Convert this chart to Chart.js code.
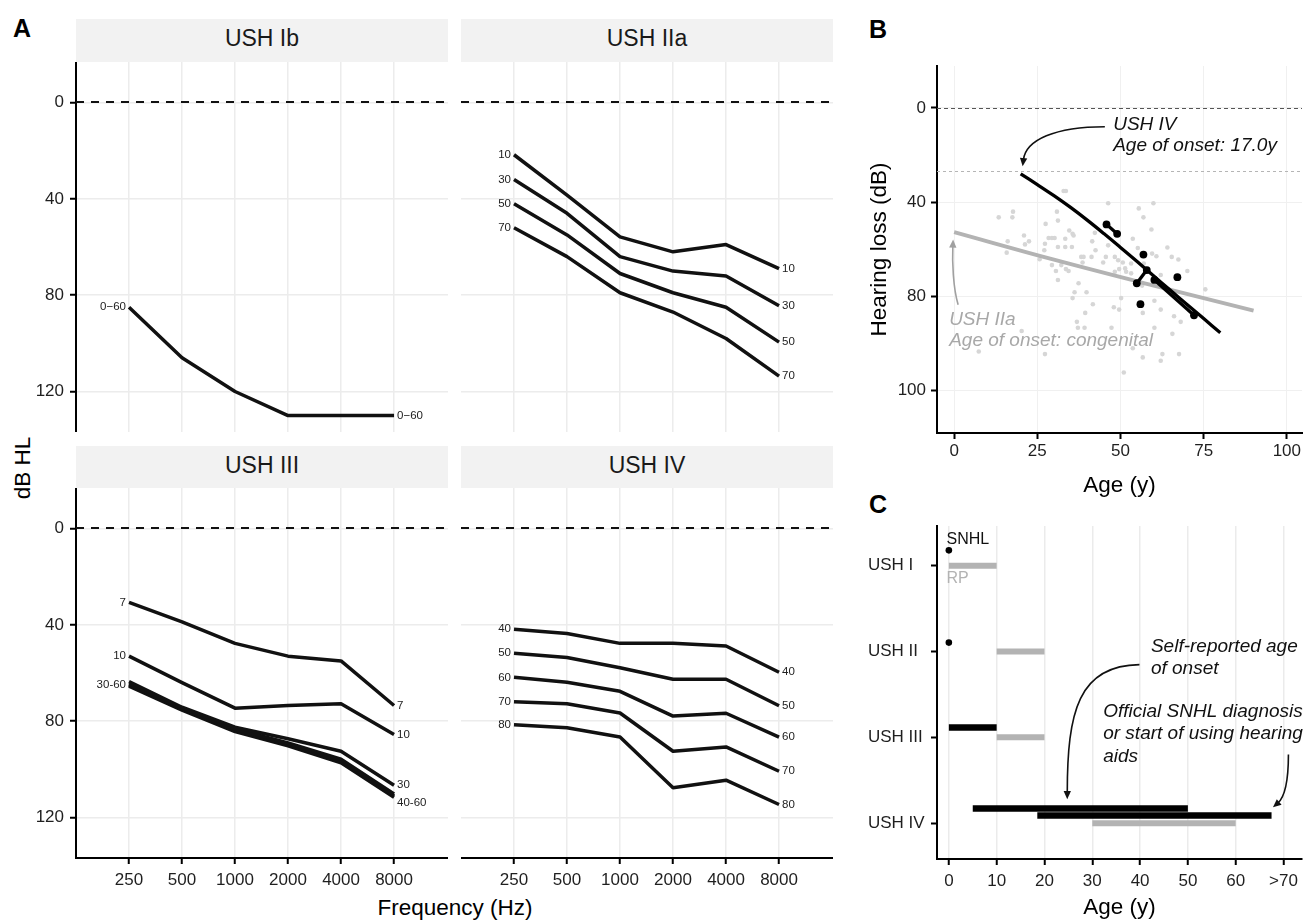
<!DOCTYPE html>
<html>
<head>
<meta charset="utf-8">
<title>Usher syndrome hearing</title>
<script src="https://cdn.jsdelivr.net/npm/chart.js@4.4.1/dist/chart.umd.min.js"></script>
<style>
  html, body { margin:0; padding:0; background:#fff; width:1309px; height:921px; overflow:hidden; }
  body { position:relative; font-family:'Liberation Sans', Arial, Helvetica, sans-serif; }
  canvas { position:absolute; }
  .strip { position:absolute; background:#f2f2f2; box-sizing:border-box; text-align:center; font-size:23px; line-height:23px; color:#1a1a1a; }
  .txt { position:absolute; white-space:nowrap; line-height:1; color:#000; }
  .letter { font-weight:bold; font-size:25px; }
</style>
</head>
<body>
<div class="txt letter" style="left:22px;top:28px;transform:translate(-50%,-50%)">A</div>
<div class="txt letter" style="left:878px;top:29px;transform:translate(-50%,-50%)">B</div>
<div class="txt letter" style="left:878px;top:504px;transform:translate(-50%,-50%)">C</div>

<div class="strip" style="left:76px;top:19px;width:372px;height:43px;padding-top:7.5px">USH Ib</div>
<div class="strip" style="left:461px;top:19px;width:372px;height:43px;padding-top:7.5px">USH IIa</div>
<div class="strip" style="left:76px;top:446px;width:372px;height:42px;padding-top:7.5px">USH III</div>
<div class="strip" style="left:461px;top:446px;width:372px;height:42px;padding-top:7.5px">USH IV</div>

<div class="txt" style="left:455px;top:908px;font-size:22.5px;transform:translate(-50%,-50%)">Frequency (Hz)</div>
<div class="txt" style="left:23px;top:468px;font-size:22.5px;transform:translate(-50%,-50%) rotate(-90deg)">dB HL</div>

<script>
// ======================= DATA =======================
// Panel A: audiograms per age (dB HL at each frequency)
const freqs = [250, 500, 1000, 2000, 4000, 8000];
const freqLabels = ['250', '500', '1000', '2000', '4000', '8000'];
const dbTicks = [0, 40, 80, 120];

const ush1b_age0_60 = [85, 106, 120, 130, 130, 130];
const ush1bLeftLabels  = ['0\u221260'];
const ush1bRightLabels = ['0\u221260'];

const ush2a_age10 = [21.7, 38.5, 55.8, 62, 59, 69];
const ush2a_age30 = [32, 46, 64, 70, 72, 84.4];
const ush2a_age50 = [42, 55, 71, 79, 85, 99.5];
const ush2a_age70 = [52, 64, 79, 87, 98, 113.6];
const ush2aLeftLabels  = ['10', '30', '50', '70'];
const ush2aRightLabels = ['10', '30', '50', '70'];

const ush3_age7  = [30.7, 38.8, 47.7, 53, 55, 73.5];
const ush3_age10 = [53, 64, 74.6, 73.5, 72.8, 85.5];
const ush3_age30 = [63.6, 74.2, 82.5, 87.3, 92.5, 106.6];
const ush3_age40 = [64.5, 74.6, 83.2, 89, 95.8, 110.2];
const ush3_age50 = [65, 75, 83.8, 89.6, 96.6, 111];
const ush3_age60 = [65.5, 75.4, 84.3, 90.2, 97.3, 111.6];
const ush3LeftLabels  = ['7', '10', '', '', '30-60', ''];
const ush3RightLabels = ['7', '10', '30', '', '', '40-60'];

const ush4_age40 = [41.8, 43.6, 47.7, 47.7, 48.8, 59.7];
const ush4_age50 = [51.8, 53.6, 57.8, 62.6, 62.6, 73.6];
const ush4_age60 = [61.8, 63.8, 67.6, 77.9, 76.7, 86.6];
const ush4_age70 = [71.9, 72.8, 76.6, 92.5, 90.7, 100.8];
const ush4_age80 = [81.5, 82.7, 86.6, 107.6, 104.5, 114.6];
const ush4LeftLabels  = ['40', '50', '60', '70', '80'];
const ush4RightLabels = ['40', '50', '60', '70', '80'];

// Panel B: hearing loss vs age
const ush2aAge = [32.9,33.6,13.4,17.7,17.5,30.9,31.2,27.5,21.0,22.5,21.3,16.1,15.8,28.4,29.4,30.2,27.3,27.1,25.7,31.2,
  33.4,35.4,33.4,34.6,35.6,35.9,42.3,41.5,42.5,41.3,38.2,38.9,38.6,29.4,32.2,30.6,33.6,34.4,31.2,37.4,
  36.2,39.8,35.6,41.7,39.4,36.9,37.2,39.2,20.3,7.4,27.3,46.3,59.9,55.5,56.9,59.3,53.7,64.1,55.2,46.3,
  65.4,67.4,59.5,60.8,45.6,48.3,49.3,44.8,50.7,51.7,49.6,48.3,53.2,62.1,70.1,75.5,56.5,56.7,50.2,49.6,
  48.0,60.2,62.1,66.1,68.1,60.2,65.6,47.3,53.7,56.7,62.6,62.1,67.6,51.0,53.2,51.4,57.0];
const ush2aHL = [35.3,35.3,46.5,44.1,46.5,44.1,47.9,49.3,54.2,56.7,58.0,56.7,61.5,55.3,55.3,55.3,57.7,60.5,64.3,59.1,
  59.1,59.1,55.6,52.1,53.5,54.2,53.1,56.7,60.5,63.3,63.3,63.3,65.7,66.8,66.8,69.3,68.5,69.3,73.1,74.5,
  78.3,78.3,80.8,83.4,87.1,90.9,93.4,93.4,94.8,103.5,104.6,40.5,40.5,42.7,46.5,51.7,55.6,59.3,59.5,58.4,
  63.3,64.4,61.9,63.0,63.3,63.3,64.7,65.7,65.7,69.6,68.5,69.6,70.3,71.0,69.3,77.1,75.5,87.1,80.8,85.7,
  84.7,81.9,85.7,88.5,90.9,93.4,96.0,93.4,102.1,106.0,104.6,107.4,104.6,112.4,66.1,68.2,66.1];

const ush4PatientId = [1, 1, 2, 3, 3, 4, 4, 5, 6];
const ush4Age = [45.8, 49.0, 56.9, 57.9, 54.9, 60.2, 72.1, 67.1, 56.0];
const ush4HL  = [49.5, 53.5, 62.3, 68.9, 74.5, 73.1, 88.1, 71.9, 83.4];

const fitUsh4Age = [20, 25, 30, 35, 40, 45, 50, 55, 60, 65, 70, 75, 80];
const fitUsh4HL  = [28, 32.6, 37.3, 42.3, 47.7, 53.4, 59.3, 65.3, 71.4, 77.5, 83.5, 89.5, 95.5];
const fitUsh2aAge = [0, 30, 60, 90];
const fitUsh2aHL  = [52.8, 64.5, 75.5, 86.1];
const onsetThresholdDB = 27;

const bXTicks = [0, 25, 50, 75, 100];
const bYTicks = [0, 40, 80, 120];
const bYTickLabels = ['0', '40', '80', '100'];

// Panel C: onset of SNHL and RP by Usher type
const cGroups = ['USH I', 'USH II', 'USH III', 'USH IV'];
const snhlPointGroup = ['USH I', 'USH II'];
const snhlPointAge   = [0, 0];
const snhlBarGroup = ['USH III', 'USH IV', 'USH IV'];
const snhlBarStart = [0, 5, 18.5];
const snhlBarEnd   = [10, 50, 67.5];
const rpGroup = ['USH I', 'USH II', 'USH III', 'USH IV'];
const rpStart = [0, 10, 10, 30];
const rpEnd   = [10, 20, 20, 60];
const cXTicks = [0, 10, 20, 30, 40, 50, 60, 70];
const cXTickLabels = ['0', '10', '20', '30', '40', '50', '60', '>70'];

// ======================= STYLE / LAYOUT =======================
const FONT = "'Liberation Sans', Arial, Helvetica, sans-serif";
Chart.defaults.font.family = FONT;
Chart.defaults.color = '#222';
const GRID = '#ececec';
const TICKFONT = {size: 17};
const TICKCOL = '#1f1f1f';
const snhlPointNudge = [-0.18, -0.105];
const snhlBarNudge = [-0.115, -0.17, -0.088];
const ush3RightDy = [0, 0, 0, 0, 0, 6];

function makeCanvas(left, top, w, h) {
  const c = document.createElement('canvas');
  c.width = w; c.height = h;
  c.style.left = left + 'px'; c.style.top = top + 'px';
  c.style.width = w + 'px'; c.style.height = h + 'px';
  document.body.appendChild(c);
  return c.getContext('2d');
}
function baseOptions() {
  return { responsive:false, animation:false, devicePixelRatio:1, events:[],
    layout:{padding:0},
    plugins:{legend:{display:false}, tooltip:{enabled:false}, title:{display:false}} };
}
function refLines(lines) {
  return { id:'refLines', beforeDatasetsDraw(chart) {
    const {ctx, chartArea:a, scales:{y}} = chart;
    ctx.save();
    lines.forEach(l => {
      const py = Math.round(y.getPixelForValue(l.value)) + (l.width % 2 ? 0.5 : 0);
      ctx.beginPath(); ctx.setLineDash(l.dash); ctx.lineWidth = l.width; ctx.strokeStyle = l.color;
      ctx.moveTo(a.left, py); ctx.lineTo(a.right, py); ctx.stroke();
    });
    ctx.restore();
  }};
}
const endLabels = { id:'endLabels', afterDatasetsDraw(chart) {
  const ctx = chart.ctx; ctx.save();
  ctx.font = '11.5px ' + FONT; ctx.fillStyle = '#222'; ctx.textBaseline = 'middle';
  chart.data.datasets.forEach((ds, i) => {
    const pts = chart.getDatasetMeta(i).data; if (!pts.length) return;
    if (ds.leftLabel) { ctx.textAlign = 'right'; ctx.fillText(ds.leftLabel, pts[0].x - 3, pts[0].y); }
    if (ds.rightLabel) { const p = pts[pts.length - 1]; ctx.textAlign = 'left'; ctx.fillText(ds.rightLabel, p.x + 3, p.y + (ds.rightDy || 0)); }
  });
  ctx.restore();
}};
function drawArrow(ctx, P, color, width, head) {
  const [p0, p1, p2, p3] = P;
  const ang = Math.atan2(p3[1] - p2[1], p3[0] - p2[0]);
  ctx.strokeStyle = color; ctx.fillStyle = color; ctx.lineWidth = width; ctx.setLineDash([]);
  ctx.beginPath(); ctx.moveTo(p0[0], p0[1]);
  ctx.bezierCurveTo(p1[0], p1[1], p2[0], p2[1], p3[0] - Math.cos(ang) * head * 0.7, p3[1] - Math.sin(ang) * head * 0.7);
  ctx.stroke();
  ctx.beginPath(); ctx.moveTo(p3[0], p3[1]);
  ctx.lineTo(p3[0] - head * Math.cos(ang - 0.42), p3[1] - head * Math.sin(ang - 0.42));
  ctx.lineTo(p3[0] - head * Math.cos(ang + 0.42), p3[1] - head * Math.sin(ang + 0.42));
  ctx.closePath(); ctx.fill();
}
function notesPlugin(notes, arrows) {
  return { id:'notes', afterDatasetsDraw(chart) {
    const {ctx, scales:{x, y}} = chart;
    ctx.save();
    notes.forEach(n => {
      ctx.font = (n.style || '') + ' ' + n.size + 'px ' + FONT;
      ctx.fillStyle = n.color; ctx.textAlign = 'left'; ctx.textBaseline = 'middle';
      const px = x.getPixelForValue(n.x), py = y.getPixelForValue(n.y);
      n.lines.forEach((t, k) => ctx.fillText(t, px, py + k * n.lh));
    });
    arrows.forEach(a => drawArrow(ctx, a.pts.map(p => [x.getPixelForValue(p[0]), y.getPixelForValue(p[1])]), a.color, a.width, a.head));
    ctx.restore();
  }};
}

// ======================= PANEL A =======================
function audiogram(chartLeft, chartTop, seriesList, leftLabels, rightLabels, rightDy, showY, showX) {
  const W = showY ? 56 : 0, H = showX ? 40 : 0, PW = 372, PH = 370;
  const ctx = makeCanvas(chartLeft - W, chartTop, PW + W, PH + H);
  const datasets = seriesList.map((vals, i) => ({
    type:'line', data: vals.map((v, j) => ({x: freqs[j], y: v})),
    borderColor:'#111', borderWidth:3.5, pointRadius:0, tension:0,
    borderCapStyle:'butt', borderJoinStyle:'round',
    leftLabel: leftLabels[i], rightLabel: rightLabels[i], rightDy: (rightDy && rightDy[i]) || 0
  }));
  const opts = baseOptions();
  opts.scales = {
    x: { type:'logarithmic', min:125, max:16200,
      afterBuildTicks: s => { s.ticks = freqs.map(v => ({value:v})); },
      afterFit: s => { s.height = H; s.paddingLeft = 0; s.paddingRight = 0; },
      ticks: { display: showX, autoSkip:false, maxRotation:0, minRotation:0, padding:6, font: TICKFONT, color: TICKCOL,
        callback: v => freqLabels[freqs.indexOf(v)] },
      grid: { color: GRID, lineWidth:1.5, drawTicks: showX, tickLength:6, tickColor:'#000', tickWidth:2 },
      border: { display: showX, color:'#000', width:2 } },
    y: { type:'linear', reverse:true, min:-16.8, max:136.8,
      afterBuildTicks: s => { s.ticks = dbTicks.map(v => ({value:v})); },
      afterFit: s => { s.width = W; s.paddingTop = 0; s.paddingBottom = 0; },
      ticks: { display: showY, padding:6, font: TICKFONT, color: TICKCOL, callback: v => String(v) },
      grid: { color: GRID, lineWidth:1.5, drawTicks: showY, tickLength:6, tickColor:'#000', tickWidth:2 },
      border: { display: showY, color:'#000', width:2 } }
  };
  new Chart(ctx, { type:'line', data:{datasets}, options:opts,
    plugins:[refLines([{value:0, color:'#111', width:2, dash:[8, 7]}]), endLabels] });
}
audiogram(76, 62, [ush1b_age0_60], ush1bLeftLabels, ush1bRightLabels, null, true, false);
audiogram(461, 62, [ush2a_age10, ush2a_age30, ush2a_age50, ush2a_age70], ush2aLeftLabels, ush2aRightLabels, null, false, false);
audiogram(76, 488, [ush3_age7, ush3_age10, ush3_age30, ush3_age40, ush3_age50, ush3_age60], ush3LeftLabels, ush3RightLabels, ush3RightDy, true, true);
audiogram(461, 488, [ush4_age40, ush4_age50, ush4_age60, ush4_age70, ush4_age80], ush4LeftLabels, ush4RightLabels, null, false, true);

// ======================= PANEL B =======================
(function panelB() {
  const W = 77, H = 71, PW = 369, PH = 371;
  const ctx = makeCanvas(860, 62, W + PW, PH + H);
  const datasets = [];
  datasets.push({ type:'scatter', data: ush2aAge.map((a, i) => ({x:a, y:ush2aHL[i]})),
    backgroundColor:'#d6d6d6', borderWidth:0, pointRadius:2.3, order:6 });
  datasets.push({ type:'line', data: fitUsh2aAge.map((a, i) => ({x:a, y:fitUsh2aHL[i]})),
    borderColor:'#b3b3b3', borderWidth:3.8, pointRadius:0, tension:0.4, order:5 });
  datasets.push({ type:'line', data: fitUsh4Age.map((a, i) => ({x:a, y:fitUsh4HL[i]})),
    borderColor:'#000', borderWidth:3.3, pointRadius:0, tension:0.4, order:4 });
  [...new Set(ush4PatientId)].forEach(id => {
    const pts = [];
    ush4PatientId.forEach((p, i) => { if (p === id) pts.push({x:ush4Age[i], y:ush4HL[i]}); });
    datasets.push({ type:'line', data: pts, borderColor:'#000', borderWidth:3.3, showLine:true,
      pointRadius:3.9, pointBorderWidth:0, pointBackgroundColor:'#000', order:1 });
  });
  const opts = baseOptions();
  opts.scales = {
    x: { type:'linear', min:-5.15, max:104.56,
      afterBuildTicks: s => { s.ticks = bXTicks.map(v => ({value:v})); },
      afterFit: s => { s.height = H; s.paddingLeft = 0; s.paddingRight = 0; },
      ticks: { padding:2, font: TICKFONT, color: TICKCOL, maxRotation:0, autoSkip:false, callback: v => String(v) },
      grid: { color:'#f0f0f0', lineWidth:1, tickLength:6, tickColor:'#000', tickWidth:2 },
      border: { color:'#000', width:2 },
      title: { display:true, text:'Age (y)', font:{size:22.5}, color:'#000', padding:{top:0, bottom:4.5} } },
    y: { type:'linear', reverse:true, min:-17.77, max:138.1,
      afterBuildTicks: s => { s.ticks = bYTicks.map(v => ({value:v})); },
      afterFit: s => { s.width = W; s.paddingTop = 0; s.paddingBottom = 0; },
      ticks: { padding:5, font: TICKFONT, color: TICKCOL, callback: v => bYTickLabels[bYTicks.indexOf(v)] },
      grid: { color:'#f0f0f0', lineWidth:1, tickLength:6, tickColor:'#000', tickWidth:2 },
      border: { color:'#000', width:2 },
      title: { display:true, text:'Hearing loss (dB)', font:{size:22.5}, color:'#000', padding:{top:6.5, bottom:0} } }
  };
  const notes = [
    { lines:['USH IV', 'Age of onset: 17.0y'], x:47.8, y:7.0, lh:21, size:19, style:'italic', color:'#111' },
    { lines:['USH IIa', 'Age of onset: congenital'], x:-1.5, y:90.0, lh:21, size:19, style:'italic', color:'#a8a8a8' }
  ];
  const arrows = [
    { pts:[[45.3, 8.0], [30.4, 8.0], [21.5, 13.6], [20.6, 24.8]], color:'#111', width:1.6, head:9 },
    { pts:[[1.2, 83.6], [-0.3, 76.6], [-0.6, 65.4], [-0.3, 55.9]], color:'#a0a0a0', width:1.6, head:9 }
  ];
  new Chart(ctx, { type:'line', data:{datasets}, options:opts,
    plugins:[refLines([{value:0, color:'#555', width:1, dash:[4, 3]}, {value:onsetThresholdDB, color:'#b5b5b5', width:1, dash:[3, 3]}]),
             notesPlugin(notes, arrows)] });
})();

// ======================= PANEL C =======================
(function panelC() {
  const W = 69, H = 62, PW = 369, PH = 337;
  const ctx = makeCanvas(868, 522, W + PW, PH + H);
  const row = g => cGroups.indexOf(g) + 1;
  const datasets = [];
  rpGroup.forEach((g, i) => datasets.push({ type:'line',
    data:[{x:rpStart[i], y:row(g)}, {x:rpEnd[i], y:row(g)}],
    borderColor:'#b3b3b3', borderWidth:6, pointRadius:0, borderCapStyle:'butt', order:3 }));
  snhlBarGroup.forEach((g, i) => datasets.push({ type:'line',
    data:[{x:snhlBarStart[i], y:row(g) + snhlBarNudge[i]}, {x:snhlBarEnd[i], y:row(g) + snhlBarNudge[i]}],
    borderColor:'#000', borderWidth:6.5, pointRadius:0, borderCapStyle:'butt', order:2 }));
  datasets.push({ type:'scatter', data: snhlPointGroup.map((g, i) => ({x:snhlPointAge[i], y:row(g) + snhlPointNudge[i]})),
    backgroundColor:'#000', borderWidth:0, pointRadius:3.3, order:1, clip:false });
  const opts = baseOptions();
  opts.scales = {
    x: { type:'linear', min:-2.48, max:73.87,
      afterBuildTicks: s => { s.ticks = cXTicks.map(v => ({value:v})); },
      afterFit: s => { s.height = H; s.paddingLeft = 0; s.paddingRight = 0; },
      ticks: { padding:6.5, font: TICKFONT, color: TICKCOL, maxRotation:0, autoSkip:false, callback: v => cXTickLabels[cXTicks.indexOf(v)] },
      grid: { color:'#ebebeb', lineWidth:1.5, tickLength:6, tickColor:'#000', tickWidth:2 },
      border: { color:'#000', width:2 },
      title: { display:true, text:'Age (y)', font:{size:22.5}, color:'#000', padding:{top:0, bottom:0} } },
    y: { type:'linear', reverse:true, min:0.536, max:4.418,
      afterBuildTicks: s => { s.ticks = cGroups.map((g, i) => ({value:i + 1})); },
      afterFit: s => { s.width = W; s.paddingTop = 0; s.paddingBottom = 0; },
      ticks: { padding:6, crossAlign:'far', font: TICKFONT, color: TICKCOL, callback: v => cGroups[v - 1] },
      grid: { drawOnChartArea:false, tickLength:6, tickColor:'#000', tickWidth:2 },
      border: { color:'#000', width:2 } }
  };
  const notes = [
    { lines:['SNHL'], x:-0.48, y:0.69, lh:0, size:16, color:'#111' },
    { lines:['RP'], x:-0.48, y:1.15, lh:0, size:16, color:'#b3b3b3' },
    { lines:['Self-reported age', 'of onset'], x:42.27, y:1.938, lh:22.5, size:19, style:'italic', color:'#111' },
    { lines:['Official SNHL diagnosis', 'or start of using hearing', 'aids'], x:32.28, y:2.698, lh:22.5, size:19, style:'italic', color:'#111' }
  ];
  const arrows = [
    { pts:[[39.87, 2.152], [27.1, 2.16], [24.77, 2.70], [24.77, 3.72]], color:'#111', width:1.6, head:9 },
    { pts:[[71.03, 3.20], [71.03, 3.508], [70.2, 3.70], [67.8, 3.816]], color:'#111', width:1.6, head:9 }
  ];
  new Chart(ctx, { type:'line', data:{datasets}, options:opts, plugins:[notesPlugin(notes, arrows)] });
})();
</script>
</body>
</html>
